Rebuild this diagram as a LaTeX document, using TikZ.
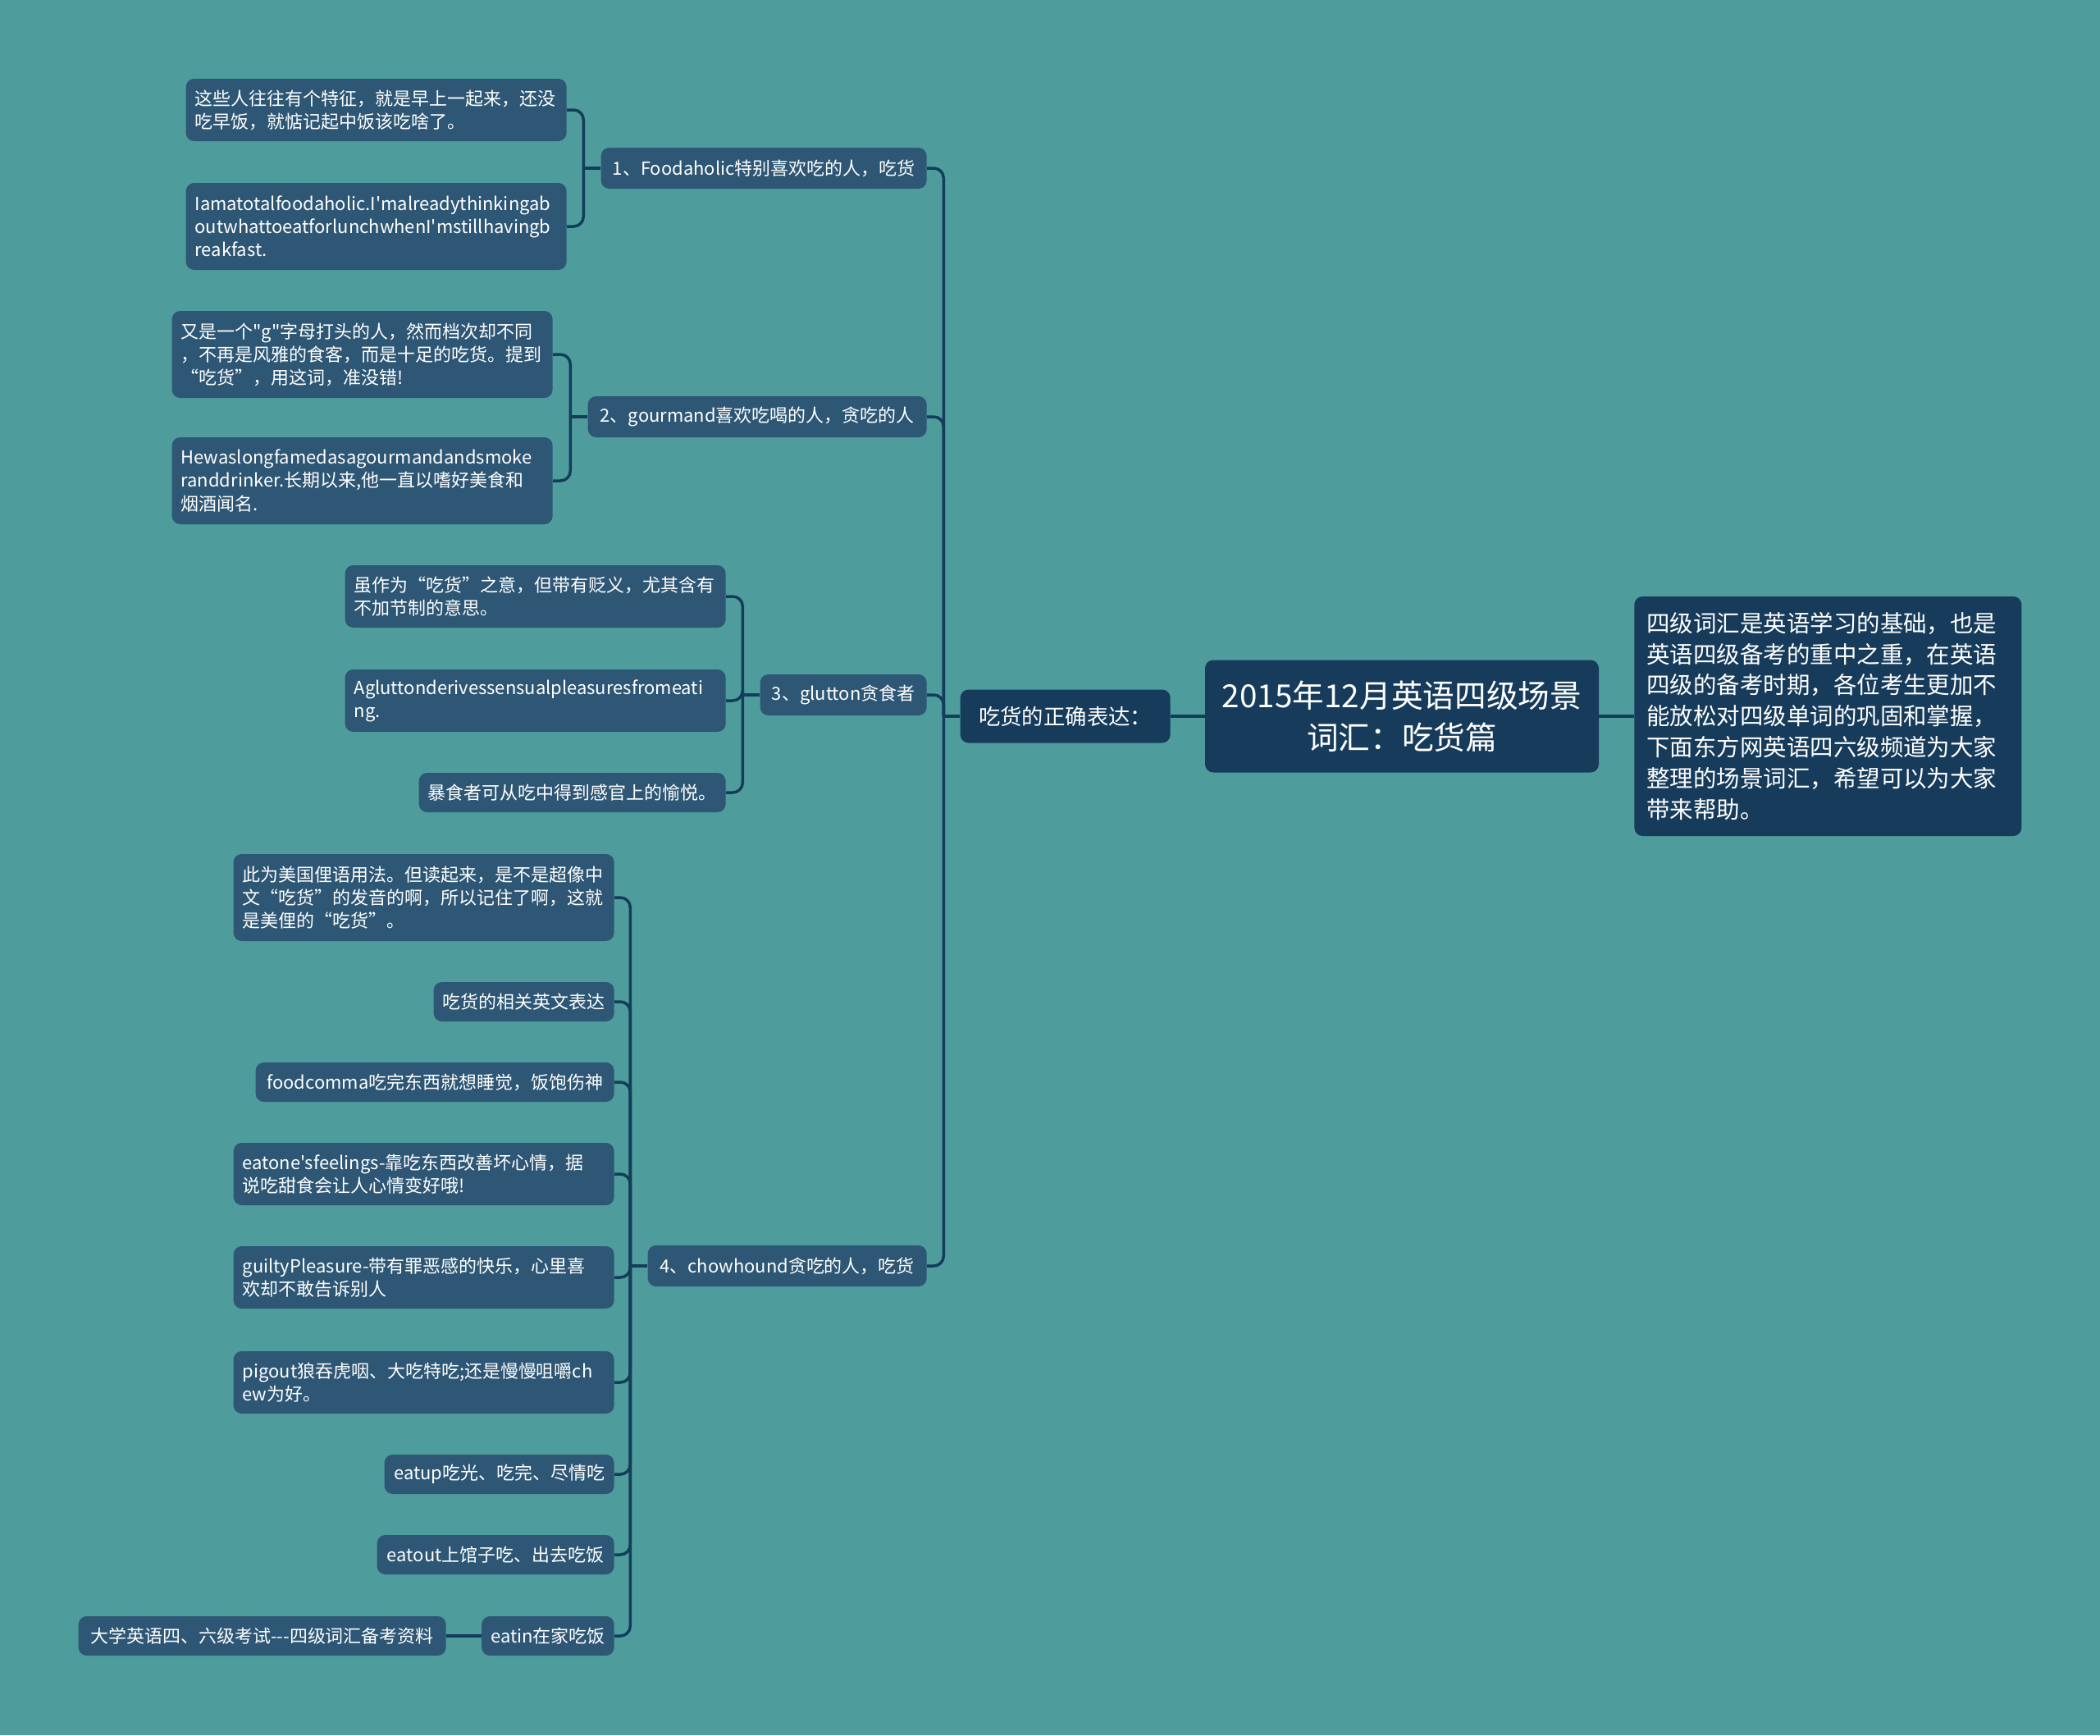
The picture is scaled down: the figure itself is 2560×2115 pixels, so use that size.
\documentclass[tikz,border=0pt]{standalone}
\usepackage{fontspec}
\setmainfont{Noto Sans CJK SC}[Ligatures=TeXOff]
\usetikzlibrary{positioning}
\definecolor{bgc}{HTML}{4E9D9C}
\definecolor{leafc}{HTML}{2E5775}
\definecolor{darkc}{HTML}{173C5B}
\definecolor{linec}{HTML}{143D5C}
\begin{document}
\begin{tikzpicture}[
      x=0.2mm,y=-0.2mm,
      every node/.style={text=white,font=\fontsize{12.5}{16}\selectfont},
      leaf/.style={fill=leafc,rounded corners=2mm,anchor=east,align=left,inner xsep=2.2mm,inner ysep=1pt,minimum height=9.6mm},
      wrap/.style={text width=88.4mm},
      two/.style={minimum height=15.2mm},
      three/.style={minimum height=21.2mm},
      br/.style={leaf,inner xsep=2.4mm,minimum height=10mm},
      link/.style={draw=linec,line width=0.7mm,rounded corners=2.4mm}
    ]
    % canvas
    \fill[bgc] (0,0) rectangle (2560,2115);
    \useasboundingbox (0,0) rectangle (2560,2115);
    % centre
    \node[fill=darkc,rounded corners=2mm,minimum width=96mm,minimum height=27.4mm,align=center,
          font=\fontsize{22}{29}\selectfont] (root) at (1709,873) {2015年12月英语四级场景\\词汇：吃货篇};
    \node[fill=darkc,rounded corners=2mm,anchor=west,align=left,text width=88.4mm,inner xsep=3mm,
          minimum height=58.4mm,font=\fontsize{16.2}{21.6}\selectfont] (desc) at (1992,873)
          {四级词汇是英语学习的基础，也是\\英语四级备考的重中之重，在英语\\四级的备考时期，各位考生更加不\\能放松对四级单词的巩固和掌握，\\下面东方网英语四六级频道为大家\\整理的场景词汇，希望可以为大家\\带来帮助。};
    \node[fill=darkc,rounded corners=2mm,anchor=east,inner xsep=3mm,minimum height=13mm,minimum width=51.2mm,
          font=\fontsize{15}{19}\selectfont] (expr) at (1427,873) {吃货的正确表达：};
    % branches
    \node[br,minimum width=79.4mm] (b1) at (1130,205) {1、Foodaholic特别喜欢吃的人，吃货};
    \node[br,minimum width=82.6mm] (b2) at (1130,508) {2、gourmand喜欢吃喝的人，贪吃的人};
    \node[br,minimum width=40.6mm] (b3) at (1130,847) {3、glutton贪食者};
    \node[br,minimum width=68mm] (b4) at (1130,1543) {4、chowhound贪吃的人，吃货};
    % leaves of 1
    \node[leaf,wrap,two] (l1a) at (691,134) {这些人往往有个特征，就是早上一起来，还没\\吃早饭，就惦记起中饭该吃啥了。};
    \node[leaf,wrap,three] (l1b) at (691,276) {Iamatotalfoodaholic.I'malreadythinkingab\\outwhattoeatforlunchwhenI'mstillhavingb\\reakfast.};
    % leaves of 2
    \node[leaf,wrap,three] (l2a) at (674,432) {又是一个"g"字母打头的人，然而档次却不同\\，不再是风雅的食客，而是十足的吃货。提到\\“吃货”，用这词，准没错!};
    \node[leaf,wrap,three] (l2b) at (674,586) {Hewaslongfamedasagourmandandsmoke\\randdrinker.长期以来,他一直以嗜好美食和\\烟酒闻名.};
    % leaves of 3
    \node[leaf,wrap,two] (l3a) at (885,727) {虽作为“吃货”之意，但带有贬义，尤其含有\\不加节制的意思。};
    \node[leaf,wrap,two] (l3b) at (885,854) {Agluttonderivessensualpleasuresfromeati\\ng.};
    \node[leaf,minimum width=74.8mm] (l3c) at (885,966) {暴食者可从吃中得到感官上的愉悦。};
    % leaves of 4
    \node[leaf,wrap,three] (l4a) at (749,1094) {此为美国俚语用法。但读起来，是不是超像中\\文“吃货”的发音的啊，所以记住了啊，这就\\是美俚的“吃货”。};
    \node[leaf,minimum width=44mm] (l4b) at (749,1221) {吃货的相关英文表达};
    \node[leaf,minimum width=87.4mm] (l4c) at (749,1319) {foodcomma吃完东西就想睡觉，饭饱伤神};
    \node[leaf,wrap,two] (l4d) at (749,1431) {eatone'sfeelings-靠吃东西改善坏心情，据\\说吃甜食会让人心情变好哦!};
    \node[leaf,wrap,two] (l4e) at (749,1557) {guiltyPleasure-带有罪恶感的快乐，心里喜\\欢却不敢告诉别人};
    \node[leaf,wrap,two] (l4f) at (749,1685) {pigout狼吞虎咽、大吃特吃;还是慢慢咀嚼ch\\ew为好。};
    \node[leaf,minimum width=56mm] (l4g) at (749,1797) {eatup吃光、吃完、尽情吃};
    \node[leaf,minimum width=57.8mm] (l4h) at (749,1895) {eatout上馆子吃、出去吃饭};
    \node[leaf,minimum width=32mm] (l4i) at (749,1994) {eatin在家吃饭};
    \node[leaf,minimum width=89.6mm] (l4j) at (544,1994) {大学英语四、六级考试---四级词汇备考资料};
    % junctions
    \path (expr.west) ++(-20,0) coordinate (ej);
    \path (b1.west) ++(-21,0) coordinate (j1);
    \path (b2.west) ++(-21,0) coordinate (j2);
    \path (b3.west) ++(-21,0) coordinate (j3);
    \path (b4.west) ++(-21,0) coordinate (j4);
    % links
    \draw[link] (expr.east) -- (root.west);
    \draw[link] (root.east) -- (desc.west);
    \draw[link] (ej) -- (expr.west);
    \foreach \b in {b1,b2,b3,b4}{\draw[link] (\b.east) -| (ej);}
    \draw[link] (j1) -- (b1.west);
    \foreach \c in {l1a,l1b}{\draw[link] (\c.east) -| (j1);}
    \draw[link] (j2) -- (b2.west);
    \foreach \c in {l2a,l2b}{\draw[link] (\c.east) -| (j2);}
    \draw[link] (j3) -- (b3.west);
    \foreach \c in {l3a,l3b,l3c}{\draw[link] (\c.east) -| (j3);}
    \draw[link] (j4) -- (b4.west);
    \foreach \c in {l4a,l4b,l4c,l4d,l4e,l4f,l4g,l4h,l4i}{\draw[link] (\c.east) -| (j4);}
    \draw[link] (l4j.east) -- (l4i.west);
  \end{tikzpicture}
\end{document}
